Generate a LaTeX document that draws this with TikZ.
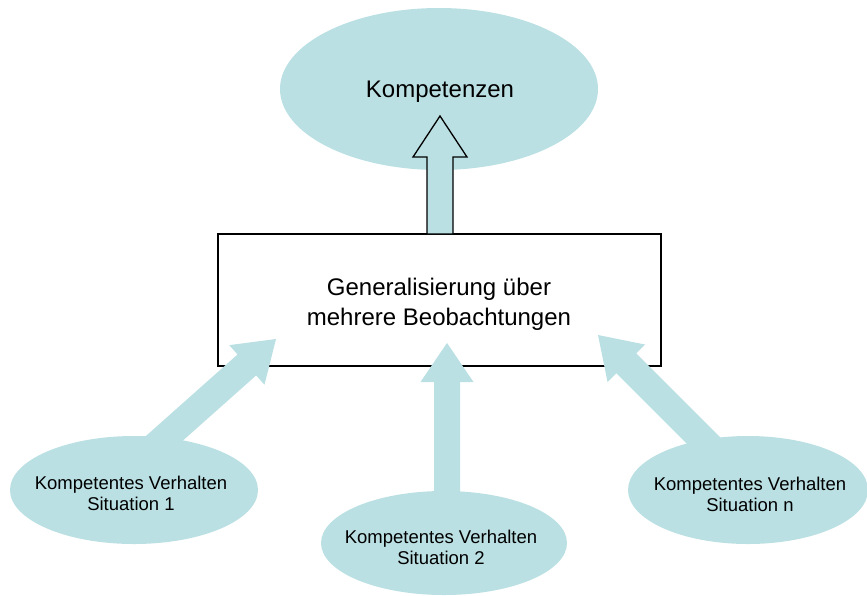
\documentclass[tikz,border=0pt]{standalone}
\usepackage{fontspec}
\setmainfont{Liberation Sans}
\usetikzlibrary{shapes.geometric,calc}
\definecolor{lblue}{RGB}{187,224,227}
\tikzset{
  ell/.style={ellipse, fill=lblue, draw=none, inner sep=0pt},
  lbl/.style={align=center, inner sep=0pt},
  bigtext/.style={font=\fontsize{24}{30}\selectfont},
  smalltext/.style={font=\fontsize{18.5}{21}\selectfont},
  genbox/.style={draw=black, line width=1.3pt, fill=white},
  outlinearrow/.style={draw=black, line width=1.3pt, fill=lblue, line join=miter},
  flatarrow/.style={draw=none, fill=lblue}
}
% #1 style, #2 tip, #3 base, #4 head length, #5 head half width, #6 shaft half width
\newcommand{\blockarrow}[6]{%
  \coordinate (ba-hc) at ($(#2)!#4!(#3)$);
  \path[#1] (#2) -- ($(ba-hc)!#5!90:(#2)$) -- ($(ba-hc)!#6!90:(#2)$)
    -- ($(#3)!#6!90:(#2)$) -- ($(#3)!#6!-90:(#2)$)
    -- ($(ba-hc)!#6!-90:(#2)$) -- ($(ba-hc)!#5!-90:(#2)$) -- cycle;}
\begin{document}
\begin{tikzpicture}[x=1pt,y=-1pt]
\path[use as bounding box] (0,0) rectangle (867,595);
% top ellipse
\node[ell, minimum width=318pt, minimum height=162pt] (komp) at (439,89) {};
\node[lbl, bigtext] (kompt) at (440,92) {Kompetenzen};
% box
\node[genbox, minimum width=443pt, minimum height=132pt] (gen) at (439.5,300) {};
\node[lbl, bigtext] (gent) at (439,304) {Generalisierung über\\mehrere Beobachtungen};
% top arrow
\coordinate (toptip) at (440,116);
\coordinate (topbase) at (440,234);
\blockarrow{outlinearrow}{toptip}{topbase}{41pt}{27pt}{13pt}
% bottom arrows
\coordinate (ltip) at (276,339);
\coordinate (lbase) at (131,468);
\coordinate (mtip) at (447,343);
\coordinate (mbase) at (447,540);
\coordinate (rtip) at (598,335);
\coordinate (rbase) at (738,475);
\blockarrow{flatarrow}{ltip}{lbase}{39pt}{26.5pt}{14pt}
\blockarrow{flatarrow}{mtip}{mbase}{39pt}{26.5pt}{13pt}
\blockarrow{flatarrow}{rtip}{rbase}{40pt}{26.5pt}{14pt}
% bottom ellipses
\node[ell, minimum width=248pt, minimum height=108pt] (s1) at (134,490) {};
\node[lbl, smalltext] (s1t) at (131,493) {Kompetentes Verhalten\\Situation 1};
\node[ell, minimum width=246pt, minimum height=104pt] (s2) at (444,543) {};
\node[lbl, smalltext] (s2t) at (441,547) {Kompetentes Verhalten\\Situation 2};
\node[ell, minimum width=240pt, minimum height=108pt] (sn) at (748,490) {};
\node[lbl, smalltext] (snt) at (750,494) {Kompetentes Verhalten\\Situation n};
\end{tikzpicture}
\end{document}
